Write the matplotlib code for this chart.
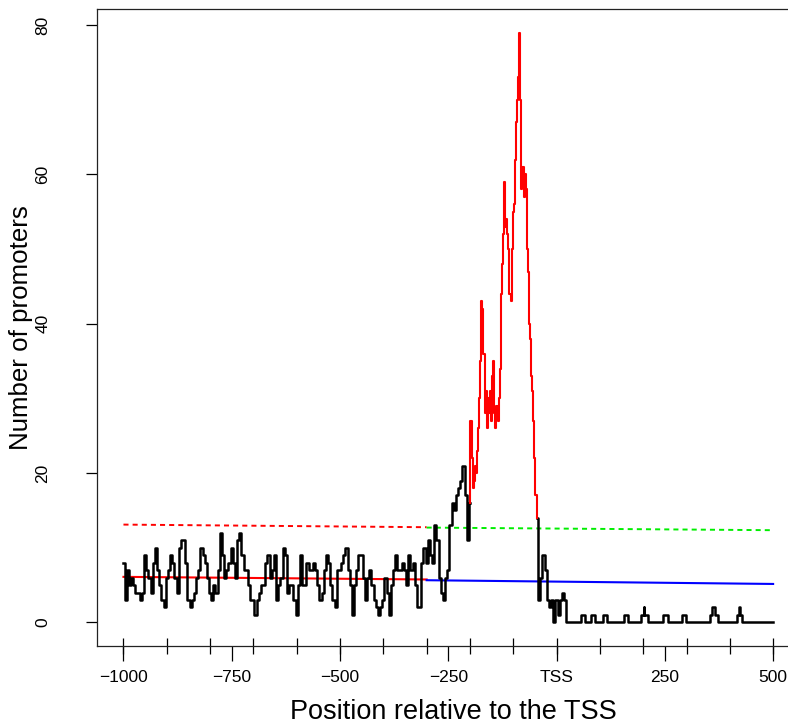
import numpy as np
import matplotlib.pyplot as plt
from matplotlib.ticker import FixedLocator

plt.rcParams['font.family'] = ['Liberation Sans', 'DejaVu Sans']

# promoter counts, 5 bp steps upstream of the TSS
cnt_a = [8, 3, 7, 5, 6, 5, 4, 4, 3, 4,
         9, 7, 6, 4, 8, 10, 7, 5, 3, 2,
         6, 7, 9, 8, 6, 4, 10, 11, 11, 8,
         3, 2, 3, 4, 6, 7, 10, 9, 8, 6,
         4, 3, 5, 4, 7, 12, 9, 6, 7, 8]          # -1000 .. -755
cnt_b = [10, 8, 6, 11, 12, 9, 7, 7, 5, 3,
         3, 1, 3, 4, 5, 5, 8, 9, 6, 7,
         9, 3, 5, 6, 10, 9, 4, 5, 5, 3,
         1, 5, 9, 5, 5, 8, 7, 7, 8, 7,
         5, 3, 4, 7, 9, 8, 5, 3, 2, 7,
         7, 8]                                     # -750 .. -495
cnt_c = [9, 10, 7, 5, 1, 5, 7, 9, 9, 6,
         3, 6, 7, 5, 3, 2, 1, 2, 3, 6,
         4, 1, 5, 7, 9, 7, 7, 8, 7, 5,
         9, 7, 8, 5, 2, 2, 8, 10, 8, 11,
         9, 8, 13, 11, 6, 4, 3, 6, 7]             # -490 .. -250
cnt_d = [13, 16, 15, 17, 18, 19, 21, 17, 11]     # -245 .. -205

# enriched region, 2.5 bp steps from -200 to -45
cnt_peak = [16, 27, 22, 18, 19, 21, 20, 23, 26, 30,
            35, 43, 42, 36, 28, 31, 26, 30, 28, 31,
            27, 33, 35, 28, 26, 29, 27, 30, 34, 44,
            48, 52, 59, 53, 54, 52, 50, 44, 43, 50,
            55, 56, 62, 67, 70, 73, 79, 70, 58, 61,
            57, 60, 58, 50, 47, 40, 38, 33, 31, 27,
            22, 17, 14]

cnt_f = [3, 6, 9, 7, 3, 2, 3, 0, 3, 1, 3, 4, 3, 0]  # -40 .. 25

# downstream: sparse counts, given as breakpoints
tail_pos = [56, 57, 65, 66, 79, 80, 88, 89, 106, 107, 116, 117,
            156, 157, 165, 166, 195, 196, 201, 202, 203, 210, 211,
            246, 247, 256, 257, 288, 289, 298, 299,
            353, 354, 359, 360, 366, 367, 372, 373,
            415, 416, 421, 422, 423, 428, 429, 500]
tail_val = [0, 1, 1, 0, 0, 1, 1, 0, 0, 1, 1, 0,
            0, 1, 1, 0, 0, 1, 1, 2, 1, 1, 0,
            0, 1, 1, 0, 0, 1, 1, 0,
            0, 1, 1, 2, 2, 1, 1, 0,
            0, 1, 1, 2, 1, 1, 0, 0]

# background level fits (upstream / downstream)
fit_up_x = [-1000, -300]
fit_dn_x = [-300, 500]
mean_up = [6.1, 5.75]
mean_dn = [5.65, 5.15]
thr_up = [13.1, 12.75]
thr_dn = [12.7, 12.35]

x_ticks = [-1000, -750, -500, -250, 0, 250, 500]
x_labels = ['\u22121000', '\u2212750', '\u2212500', '\u2212250', 'TSS', '250', '500']
y_ticks = [0, 20, 40, 60, 80]

up = np.concatenate([cnt_a, cnt_b, cnt_c, cnt_d]).astype(float)
up_pos = -1000 + 5 * np.arange(len(up))
peak_pos = np.arange(len(cnt_peak)) * 2.5 - 200
f_pos = -40 + 5 * np.arange(len(cnt_f))

pos = np.concatenate([up_pos, peak_pos, f_pos, tail_pos])
cnt = np.concatenate([up, cnt_peak, cnt_f, tail_val]).astype(float)

in_peak = (pos >= peak_pos[0]) & (pos <= peak_pos[-1])
inner = (pos > peak_pos[0]) & (pos < peak_pos[-1])
cnt_black = np.where(inner, np.nan, cnt)

fig = plt.figure(figsize=(7.88, 7.26), dpi=100)
ax = fig.add_axes([0.1237, 0.1102, 0.8904, 0.8774])

ax.plot(fit_up_x, thr_up, color='red', lw=1.4, dashes=(2.6, 2.1))
ax.plot(fit_dn_x, thr_dn, color='#00ee00', lw=1.4, dashes=(2.6, 2.1))
ax.plot(fit_up_x, mean_up, color='red', lw=1.5)
ax.plot(fit_dn_x, mean_dn, color='blue', lw=1.5)

ax.plot(pos, cnt_black, color='black', lw=1.8, drawstyle='steps-mid')
ax.plot(pos[in_peak], cnt[in_peak], color='red', lw=1.5, drawstyle='steps-mid')

ax.set_xlim(-1060, 560)
ax.set_ylim(-3.16, 82.16)

for s in ax.spines.values():
    s.set_linewidth(0.9)
    s.set_color('#222222')

ax.xaxis.set_major_locator(FixedLocator(x_ticks))
ax.set_xticklabels(x_labels)
ax.xaxis.set_minor_locator(FixedLocator(np.arange(-1000, 501, 100)))
ax.xaxis.remove_overlapping_locs = False
ax.tick_params(axis='x', which='major', direction='out', length=11, width=0.9,
               labelsize=12.5, pad=6)
ax.tick_params(axis='x', which='minor', direction='inout', length=12, width=0.9)

ax.set_yticks(y_ticks)
ax.set_yticklabels([str(v) for v in y_ticks], rotation=90, va='center')
ax.tick_params(axis='y', direction='out', length=8, width=0.9,
               labelsize=12.5, pad=26)

ax.set_xlabel('Position relative to the TSS', fontsize=19.5)
ax.xaxis.label.set_va('center')
ax.xaxis.set_label_coords(0.507, -0.1036)
ax.set_ylabel('Number of promoters', fontsize=18.6)
ax.yaxis.label.set_va('center')
ax.yaxis.set_label_coords(-0.1085, 0.5)

fig.savefig('out.png', dpi=100)
